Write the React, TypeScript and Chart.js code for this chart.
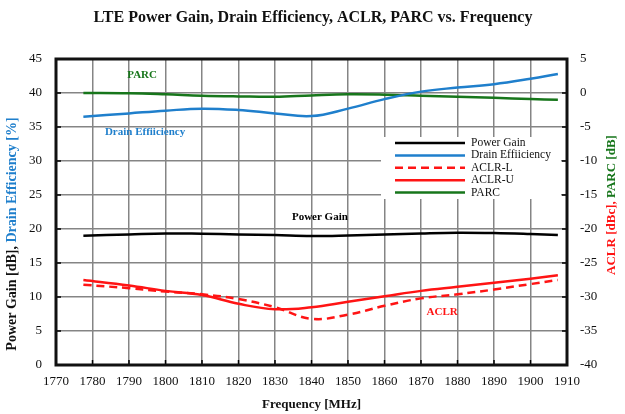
import React, { useEffect, useRef } from "react";
import { Chart, registerables } from "chart.js";

Chart.register(...registerables);

const frequencies = [1777.5, 1790, 1800, 1810, 1820, 1830, 1840, 1850, 1860, 1870, 1880, 1890, 1900, 1907.5];
const powerGain = [19.0, 19.2, 19.35, 19.3, 19.2, 19.1, 18.97, 19.05, 19.2, 19.35, 19.45, 19.4, 19.25, 19.1];
const drainEfficiency = [36.5, 37.0, 37.4, 37.7, 37.5, 37.0, 36.6, 37.7, 39.1, 40.2, 40.8, 41.3, 42.1, 42.8];
const aclrL = [-28.2, -28.7, -29.2, -29.6, -30.3, -31.5, -33.2, -32.6, -31.3, -30.2, -29.6, -28.9, -28.1, -27.5];
const aclrU = [-27.5, -28.3, -29.1, -29.7, -31.0, -31.8, -31.5, -30.7, -29.9, -29.1, -28.5, -27.9, -27.3, -26.8];
const parc = [0.0, -0.05, -0.2, -0.4, -0.5, -0.55, -0.35, -0.2, -0.25, -0.4, -0.55, -0.7, -0.9, -1.0];

const seriesNames = ["Power Gain", "Drain Effiiciency", "ACLR-L", "ACLR-U", "PARC"];

const BLACK = "#000000";
const BLUE = "#1f7fcc";
const RED = "#ff1414";
const GREEN = "#17761b";
const SERIF = "'Liberation Serif', 'Times New Roman', serif";

const inlineLabels = [
  { text: "PARC", color: GREEN, x: 1793.6, y: 42.6, axis: "y" },
  { text: "Drain Effiiciency", color: BLUE, x: 1794.4, y: 34.2, axis: "y" },
  { text: "Power Gain", color: BLACK, x: 1842.3, y: 21.8, axis: "y" },
  { text: "ACLR", color: RED, x: 1875.8, y: -32.3, axis: "y1" },
];

const toPoints = (vals: number[]) => vals.map((v, i) => ({ x: frequencies[i], y: v }));

const decorPlugin = {
  id: "decor",
  beforeDatasetsDraw(chart: any) {
    const { ctx, chartArea: a, scales } = chart;
    ctx.save();
    ctx.strokeStyle = "#000";
    ctx.lineWidth = 1.5;
    const xs = scales.x;
    for (let f = 1780; f < 1910; f += 10) {
      const px = xs.getPixelForValue(f);
      ctx.beginPath();
      ctx.moveTo(px, a.bottom);
      ctx.lineTo(px, a.bottom - 5);
      ctx.stroke();
    }
    const ys = scales.y;
    for (let v = 5; v < 45; v += 5) {
      const py = ys.getPixelForValue(v);
      ctx.beginPath();
      ctx.moveTo(a.left, py);
      ctx.lineTo(a.left + 5, py);
      ctx.moveTo(a.right, py);
      ctx.lineTo(a.right - 5, py);
      ctx.stroke();
    }
    ctx.lineWidth = 3;
    ctx.strokeStyle = "#111";
    ctx.strokeRect(a.left, a.top, a.right - a.left, a.bottom - a.top);
    ctx.restore();
  },
  afterDraw(chart: any) {
    const { ctx, chartArea: a, scales } = chart;
    ctx.save();
    ctx.fillStyle = "#111";
    ctx.font = `bold 16px ${SERIF}`;
    ctx.textAlign = "center";
    ctx.textBaseline = "middle";
    ctx.fillText("LTE Power Gain, Drain Efficiency, ACLR, PARC vs. Frequency", 313, 18);

    ctx.font = `bold 13px ${SERIF}`;
    ctx.fillText("Frequency [MHz]", (a.left + a.right) / 2, 405);

    const drawRotated = (parts: { t: string; c: string }[], cx: number, cy: number, size: number) => {
      ctx.save();
      ctx.translate(cx, cy);
      ctx.rotate(-Math.PI / 2);
      ctx.font = `bold ${size}px ${SERIF}`;
      ctx.textAlign = "left";
      ctx.textBaseline = "middle";
      const total = parts.reduce((s, p) => s + ctx.measureText(p.t).width, 0);
      let x = -total / 2;
      for (const p of parts) {
        ctx.fillStyle = p.c;
        ctx.fillText(p.t, x, 0);
        x += ctx.measureText(p.t).width;
      }
      ctx.restore();
    };
    drawRotated(
      [
        { t: "Power Gain [dB], ", c: "#111" },
        { t: "Drain Efficiency [%]", c: BLUE },
      ],
      12,
      234,
      14
    );
    drawRotated(
      [
        { t: "ACLR [dBc], ", c: RED },
        { t: "PARC [dB]", c: GREEN },
      ],
      612,
      205,
      13
    );

    ctx.font = `bold 11px ${SERIF}`;
    ctx.textAlign = "center";
    ctx.textBaseline = "middle";
    for (const l of inlineLabels) {
      ctx.fillStyle = l.color;
      ctx.fillText(l.text, scales.x.getPixelForValue(l.x), scales[l.axis].getPixelForValue(l.y));
    }

    const lx0 = 381,
      ly0 = 137,
      lw = 180,
      lh = 62;
    ctx.fillStyle = "#ffffff";
    ctx.fillRect(lx0, ly0, lw, lh);
    ctx.font = `11.5px ${SERIF}`;
    ctx.textAlign = "left";
    ctx.textBaseline = "middle";
    chart.data.datasets.forEach((ds: any, i: number) => {
      const yy = ly0 + 6 + i * 12.4;
      ctx.strokeStyle = ds.borderColor;
      ctx.lineWidth = 2.5;
      ctx.setLineDash(ds.borderDash || []);
      ctx.beginPath();
      ctx.moveTo(395, yy);
      ctx.lineTo(465, yy);
      ctx.stroke();
      ctx.setLineDash([]);
      ctx.fillStyle = "#111";
      ctx.fillText(ds.label, 471, yy);
    });
    ctx.restore();
  },
};

export default function App() {
  const ref = useRef<HTMLCanvasElement>(null);
  useEffect(() => {
    document.body.style.margin = "0";
    const ds = (label: string, data: number[], color: string, axis: string, dash?: number[]) => ({
      label,
      data: toPoints(data),
      borderColor: color,
      backgroundColor: color,
      borderWidth: 2.5,
      borderDash: dash,
      pointRadius: 0,
      tension: 0.4,
      yAxisID: axis,
      fill: false,
    });
    const chart = new Chart(ref.current!, {
      type: "line",
      data: {
        datasets: [
          ds(seriesNames[0], powerGain, BLACK, "y"),
          ds(seriesNames[1], drainEfficiency, BLUE, "y"),
          ds(seriesNames[2], aclrL, RED, "y1", [8, 5]),
          ds(seriesNames[3], aclrU, RED, "y1"),
          ds(seriesNames[4], parc, GREEN, "y1"),
        ],
      },
      options: {
        animation: false,
        responsive: true,
        maintainAspectRatio: false,
        layout: { padding: { top: 59, left: 0, right: 0, bottom: 0 } },
        plugins: { legend: { display: false }, title: { display: false }, tooltip: { enabled: false } },
        scales: {
          x: {
            type: "linear",
            min: 1770,
            max: 1910,
            afterFit: (s: any) => {
              s.height = 49;
            },
            ticks: {
              stepSize: 10,
              padding: 9,
              color: "#111",
              font: { family: SERIF, size: 13 },
              maxRotation: 0,
              callback: (v: any) => String(v),
            },
            grid: { color: "#858585", lineWidth: 1.5, drawTicks: false },
            border: { display: false },
          },
          y: {
            position: "left",
            min: 0,
            max: 45,
            afterFit: (s: any) => {
              s.width = 56;
            },
            ticks: { stepSize: 5, padding: 14, color: "#111", font: { family: SERIF, size: 13 } },
            grid: { color: "#858585", lineWidth: 1.5, drawTicks: false },
            border: { display: false },
          },
          y1: {
            position: "right",
            min: -40,
            max: 5,
            afterFit: (s: any) => {
              s.width = 58;
            },
            ticks: { stepSize: 5, padding: 13, color: "#111", font: { family: SERIF, size: 13 } },
            grid: { drawOnChartArea: false, drawTicks: false },
            border: { display: false },
          },
        },
      },
      plugins: [decorPlugin],
    });
    return () => chart.destroy();
  }, []);
  return (
    <div style={{ position: "relative", width: 625, height: 414 }}>
      <canvas ref={ref} />
    </div>
  );
}
